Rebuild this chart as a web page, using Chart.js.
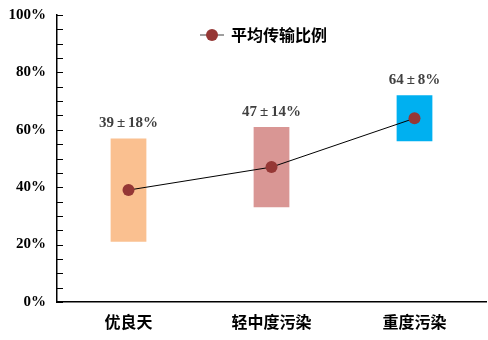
<!DOCTYPE html>
<html>
<head>
<meta charset="utf-8">
<script src="https://cdn.jsdelivr.net/npm/chart.js@4.4.1/dist/chart.umd.min.js"></script>
<style>
  html, body { margin: 0; padding: 0; background: #fff; }
  #wrap { width: 488px; height: 340px; }
</style>
</head>
<body>
<div id="wrap"><canvas id="chart"></canvas></div>
<script>
var categories = ['优良天', '轻中度污染', '重度污染'];
var mean_values = [39, 47, 64];
var spread_values = [18, 14, 8];
var bar_colors = ['#FAC090', '#D99694', '#00B0F0'];
var series_label = '平均传输比例';

var range_data = mean_values.map(function (m, i) { return [m - spread_values[i], m + spread_values[i]]; });
var marker_color = '#953735';

// value labels over the bars, inward ticks and the legend are drawn by hand
var extras = {
    id: 'extras',
    afterDatasetsDraw: function (chart) {
        var ctx = chart.ctx;
        var bars = chart.getDatasetMeta(0).data;
        ctx.save();
        ctx.font = 'bold 15px "Liberation Serif", serif';
        ctx.fillStyle = '#404040';
        ctx.textBaseline = 'middle';
        ctx.textAlign = 'left';
        bars.forEach(function (bar, i) {
            var parts = [String(mean_values[i]), '±', spread_values[i] + '%'];
            var gap = 3;
            var widths = parts.map(function (p) { return ctx.measureText(p).width; });
            var total = widths[0] + widths[1] + widths[2] + gap * 2;
            var x = bar.x - total / 2;
            parts.forEach(function (p, k) {
                ctx.fillText(p, x, bar.y - 15);
                x += widths[k] + gap;
            });
        });
        ctx.restore();
    },
    afterDraw: function (chart) {
        var ctx = chart.ctx;
        var y = chart.scales.y;
        var area = chart.chartArea;
        ctx.save();
        ctx.strokeStyle = '#000';
        ctx.lineWidth = 1;
        y.ticks.forEach(function (t) {
            var py = Math.round(y.getPixelForValue(t.value)) + 0.5;
            ctx.beginPath();
            ctx.moveTo(area.left, py);
            ctx.lineTo(area.left + 6, py);
            ctx.stroke();
        });
        // legend
        var lx = 200, ly = 35;
        ctx.strokeStyle = '#7F7F7F';
        ctx.lineWidth = 1.5;
        ctx.beginPath();
        ctx.moveTo(lx, ly);
        ctx.lineTo(lx + 24, ly);
        ctx.stroke();
        ctx.fillStyle = marker_color;
        ctx.beginPath();
        ctx.arc(lx + 12, ly, 6, 0, Math.PI * 2);
        ctx.fill();
        ctx.fillStyle = '#000';
        ctx.font = 'bold 16px "Noto Sans CJK SC", sans-serif';
        ctx.textAlign = 'left';
        ctx.textBaseline = 'middle';
        ctx.fillText(series_label, lx + 31, ly);
        ctx.restore();
    }
};

new Chart(document.getElementById('chart'), {
    data: {
        labels: categories,
        datasets: [
            {
                type: 'bar',
                data: range_data,
                backgroundColor: bar_colors,
                borderWidth: 0,
                categoryPercentage: 1,
                barPercentage: 0.25,
                order: 2
            },
            {
                type: 'line',
                label: series_label,
                data: mean_values,
                borderColor: '#000',
                borderWidth: 1,
                pointRadius: 6,
                pointHoverRadius: 6,
                pointBackgroundColor: marker_color,
                pointBorderWidth: 0,
                order: 1
            }
        ]
    },
    plugins: [extras],
    options: {
        responsive: true,
        maintainAspectRatio: false,
        animation: false,
        layout: { autoPadding: false, padding: { left: 0, right: 2, top: 15, bottom: 0 } },
        plugins: {
            legend: { display: false },
            tooltip: { enabled: false }
        },
        scales: {
            x: {
                grid: { display: false, drawTicks: false },
                border: { color: '#000', width: 1.5 },
                afterFit: function (s) { s.height = 38; s.paddingLeft = 0; s.paddingRight = 0; },
                ticks: {
                    color: '#000',
                    padding: 10,
                    font: { family: '"Noto Sans CJK SC", sans-serif', size: 16, weight: 'bold' }
                }
            },
            y: {
                min: 0,
                max: 100,
                grid: { display: false, drawTicks: false },
                border: { color: '#000', width: 1.5 },
                afterFit: function (s) { s.width = 57; s.paddingTop = 0; s.paddingBottom = 0; },
                ticks: {
                    stepSize: 5,
                    autoSkip: false,
                    padding: 11,
                    color: '#000',
                    font: { family: '"Liberation Serif", serif', size: 15, weight: 'bold' },
                    callback: function (v) { return v % 20 === 0 ? v + '%' : ''; }
                }
            }
        }
    }
});
</script>
</body>
</html>
